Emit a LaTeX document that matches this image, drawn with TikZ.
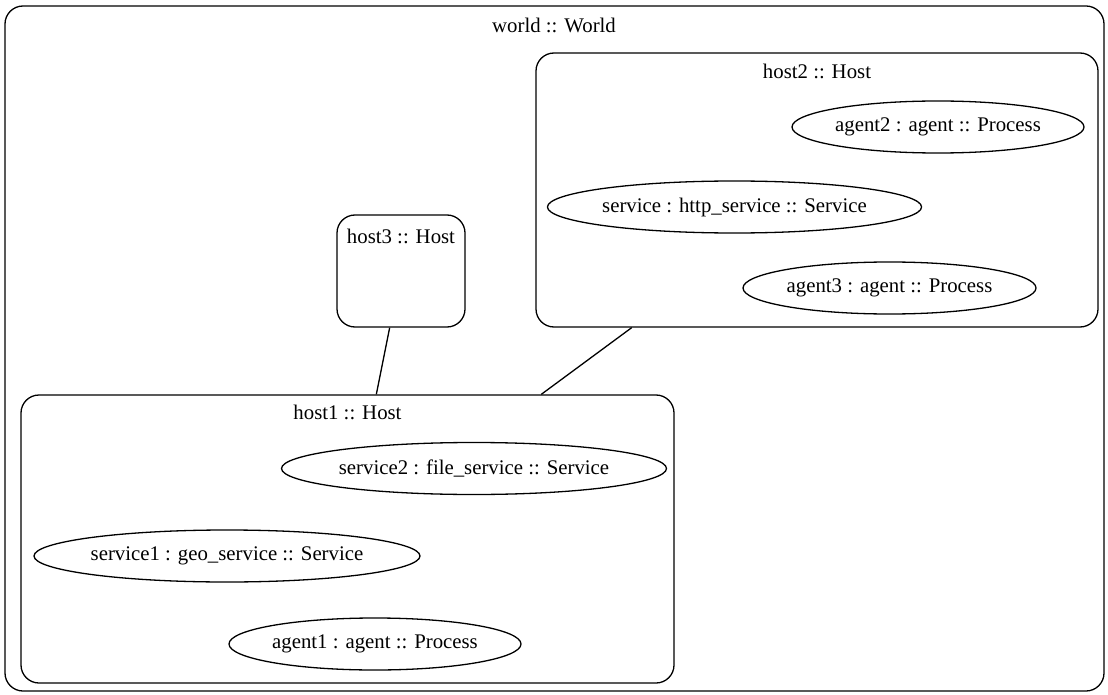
\documentclass[tikz,border=0pt]{standalone}
\usepackage{fontspec}
\setmainfont{Liberation Serif}
\usetikzlibrary{shapes.geometric}
\begin{document}
\begin{tikzpicture}[x=1pt,y=-1pt,line width=1.3pt,
        every node/.style={font=\fontsize{20.8}{24}\selectfont},
        host/.style={draw,rectangle,rounded corners=18pt,inner sep=0pt},
        proc/.style={draw,ellipse,inner sep=0pt,minimum height=52pt}]
        \useasboundingbox (0,0) rectangle (1108,695);
        \begin{scope}
            \node[host,minimum width=1099pt,minimum height=685pt] (world) at (554.5,348.5) {};
            \node (worldlbl) at (554,25) {world :: World};
            \node[host,minimum width=562pt,minimum height=274pt] (host2) at (817,190) {};
            \node (host2lbl) at (817,71) {host2 :: Host};
            \node[host,minimum width=128pt,minimum height=112pt] (host3) at (401,271) {};
            \node (host3lbl) at (401,236) {host3 :: Host};
            \node[host,minimum width=653pt,minimum height=288pt] (host1) at (347.5,539) {};
            \node (host1lbl) at (347.5,412) {host1 :: Host};
            \node[proc,minimum width=292pt] (agent2) at (938,127) {agent2 : agent :: Process};
            \node[proc,minimum width=373pt] (service) at (734.5,207) {service : http\_service :: Service};
            \node[proc,minimum width=293pt] (agent3) at (889.5,288) {agent3 : agent :: Process};
            \node[proc,minimum width=385pt] (service2) at (474,468.5) {service2 : file\_service :: Service};
            \node[proc,minimum width=386pt] (service1) at (227,556) {service1 : geo\_service :: Service};
            \node[proc,minimum width=292pt] (agent1) at (375,644) {agent1 : agent :: Process};
            \draw (host3)--(host1);
            \draw (host2)--(host1);
        \end{scope}
    \end{tikzpicture}
\end{document}
